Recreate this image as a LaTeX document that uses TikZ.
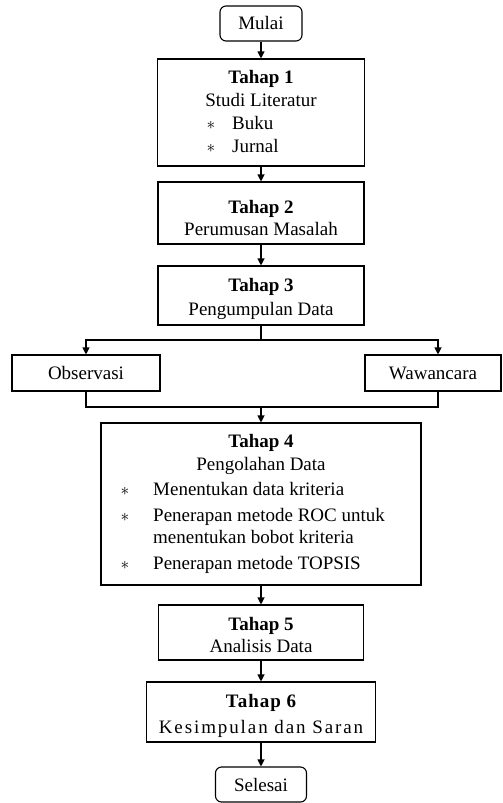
\documentclass[tikz,border=0pt]{standalone}
\usepackage{fontspec}
\setmainfont{Liberation Serif}
\usetikzlibrary{arrows.meta}
\begin{document}
\begin{tikzpicture}[x=1pt,y=-1pt,
 every node/.style={font=\fontsize{19}{23}\selectfont},
 box/.style={draw, line width=1.1pt, inner sep=0pt, rectangle},
 term/.style={box, rounded corners=6pt},
 txt/.style={inner sep=0pt, anchor=base},
 hd/.style={txt, font=\fontsize{19}{23}\selectfont\bfseries},
 ltxt/.style={inner sep=0pt, anchor=base west},
 star/.style={inner sep=0pt, anchor=base, font=\fontsize{19}{19}\selectfont},
 arr/.style={line width=1.1pt, -{Triangle[length=7pt,width=7pt]}},
 ln/.style={line width=1.1pt}]
\useasboundingbox (0,0) rectangle (503,803);

% boxes
\node[term, minimum width=82pt, minimum height=35pt] (mulai) at (261,23.5) {Mulai};
\node[box, minimum width=207pt, minimum height=107pt] (t1) at (261,112.5) {};
\node[box, minimum width=206pt, minimum height=62pt] (t2) at (261,213) {};
\node[box, minimum width=206pt, minimum height=59pt] (t3) at (261,295.5) {};
\node[box, minimum width=148pt, minimum height=36pt] (obs) at (86,373) {Observasi};
\node[box, minimum width=136pt, minimum height=36pt] (waw) at (433,373) {Wawancara};
\node[box, minimum width=320pt, minimum height=162pt] (t4) at (261,504) {};
\node[box, minimum width=205pt, minimum height=55pt] (t5) at (261,632.5) {};
\node[box, minimum width=229pt, minimum height=60pt] (t6) at (261,712) {};
\node[term, minimum width=91pt, minimum height=35pt] (selesai) at (261,784.5) {Selesai};

% texts of Tahap 1
\node[hd] (t1a) at (261,83) {Tahap 1};
\node[txt] (t1b) at (261,106) {Studi Literatur};
\node[star] (t1s1) at (211,129) {$\ast$};
\node[ltxt] (t1c) at (232,129) {Buku};
\node[star] (t1s2) at (211,152) {$\ast$};
\node[ltxt] (t1d) at (232,152) {Jurnal};

% Tahap 2, 3
\node[hd] (t2a) at (261,213) {Tahap 2};
\node[txt] (t2b) at (261,235) {Perumusan Masalah};
\node[hd] (t3a) at (261,291) {Tahap 3};
\node[txt] (t3b) at (261,315) {Pengumpulan Data};

% Tahap 4
\node[hd] (t4a) at (261,447) {Tahap 4};
\node[txt] (t4b) at (261,470) {Pengolahan Data};
\node[star] (t4s1) at (125,495) {$\ast$};
\node[ltxt] (t4c) at (153,495) {Menentukan data kriteria};
\node[star] (t4s2) at (125,521) {$\ast$};
\node[ltxt] (t4d) at (153,521) {Penerapan metode ROC untuk};
\node[ltxt] (t4e) at (153,543) {menentukan bobot kriteria};
\node[star] (t4s3) at (125,569) {$\ast$};
\node[ltxt] (t4f) at (153,569) {Penerapan metode TOPSIS};

% Tahap 5, 6
\node[hd] (t5a) at (261,630) {Tahap 5};
\node[txt] (t5b) at (261,652) {Analisis Data};
\node[hd, font=\fontsize{19}{23}\selectfont\bfseries\addfontfeature{LetterSpace=5}] (t6a) at (261,707) {Tahap 6};
\node[txt, font=\fontsize{19}{23}\selectfont\addfontfeature{LetterSpace=10}] (t6b) at (261,733) {Kesimpulan dan Saran};

% connectors
\coordinate (split) at (261,340);
\coordinate (merge) at (261,407);
\draw[arr] (mulai) -- (t1);
\draw[arr] (t1) -- (t2);
\draw[arr] (t2) -- (t3);
\draw[ln] (t3) -- (split);
\draw[arr] (split) -| (obs);
\draw[arr] (split) -| ([xshift=5pt]waw.north);
\draw[ln] (obs) |- (merge);
\draw[ln] ([xshift=5pt]waw.south) |- (merge);
\draw[arr] (merge) -- (t4);
\draw[arr] (t4) -- (t5);
\draw[arr] (t5) -- (t6);
\draw[arr] (t6) -- (selesai);
\end{tikzpicture}
\end{document}
